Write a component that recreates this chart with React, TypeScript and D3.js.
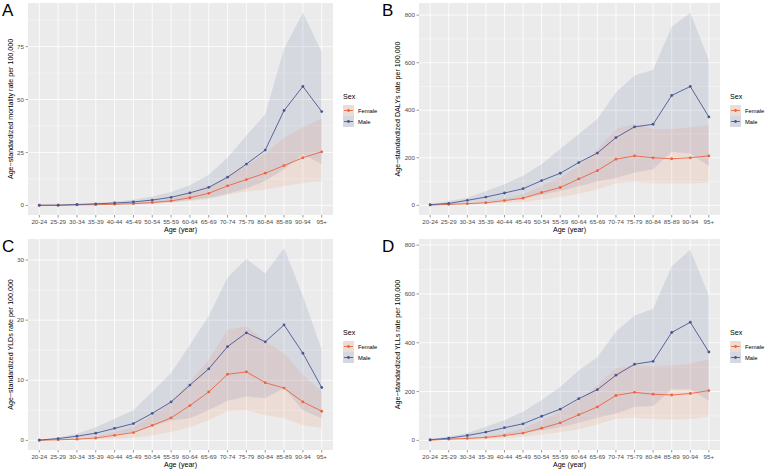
import React from "react";
import * as d3 from "d3";

// age groups on the x axis
const ages = ["20-24", "25-29", "30-34", "35-39", "40-44", "45-49", "50-54", "55-59", "60-64", "65-69", "70-74", "75-79", "80-84", "85-89", "90-94", "95+"];

// A: mortality
const mortFemale = [0, 0.05, 0.2, 0.3, 0.5, 0.8, 1.3, 2.1, 3.6, 5.7, 9.2, 12.2, 15.2, 18.8, 22.5, 25.3];
const mortFemaleLo = [0, 0.02, 0.1, 0.15, 0.3, 0.45, 0.7, 1.2, 2, 3, 5, 6.5, 7.5, 9, 10.5, 11.5];
const mortFemaleHi = [0.05, 0.1, 0.3, 0.5, 0.8, 1.2, 2, 3.2, 5.5, 8.5, 14, 19, 24.5, 32, 37, 41];
const mortMale = [0.05, 0.1, 0.4, 0.7, 1.1, 1.6, 2.5, 3.8, 5.9, 8.5, 13.3, 19.5, 26.1, 44.8, 56.2, 44.3];
const mortMaleLo = [0, 0.05, 0.15, 0.3, 0.5, 0.7, 1.1, 1.6, 2.5, 3.5, 5.5, 8, 11.5, 17, 24, 19.5];
const mortMaleHi = [0.1, 0.2, 0.6, 1.1, 1.8, 2.7, 4.2, 6.3, 9.5, 14.5, 22.5, 33, 43, 74, 91, 72.5];

// B: DALYs
const dalyFemale = [1, 4, 7, 11, 20, 30, 54, 75, 111, 146, 194, 208, 200, 196, 200, 208];
const dalyFemaleLo = [0.5, 2, 4, 6, 10, 14, 25, 35, 49, 68, 92, 99, 93, 92, 92, 96];
const dalyFemaleHi = [2, 6, 10, 17, 30, 46, 82, 117, 166, 236, 321, 342, 321, 321, 328, 336];
const dalyMale = [3, 8, 21, 35, 52, 70, 104, 135, 180, 220, 285, 330, 341, 462, 500, 372];
const dalyMaleLo = [1, 4, 10, 15, 22, 30, 45, 60, 80, 100, 115, 138, 152, 225, 218, 166];
const dalyMaleHi = [5, 18, 32, 60, 89, 124, 173, 237, 300, 363, 476, 546, 570, 751, 810, 610];

// C: YLDs
const yldFemale = [0.02, 0.1, 0.2, 0.4, 0.85, 1.3, 2.5, 3.75, 5.8, 8.05, 11, 11.4, 9.6, 8.7, 6.4, 4.85];
const yldFemaleLo = [0, 0.05, 0.1, 0.2, 0.3, 0.45, 0.85, 1.4, 2.2, 3.4, 4.9, 5, 4.2, 3.7, 2.5, 2.1];
const yldFemaleHi = [0.05, 0.2, 0.4, 0.7, 1.4, 2.2, 4.2, 6.4, 9.8, 13.4, 18.4, 19, 16.5, 14.5, 10.9, 8.1];
const yldMale = [0.05, 0.3, 0.7, 1.2, 2, 2.8, 4.5, 6.4, 9.2, 11.9, 15.6, 17.9, 16.4, 19.2, 14.5, 8.8];
const yldMaleLo = [0, 0.15, 0.35, 0.6, 1, 1.4, 2.3, 3.3, 3.7, 5, 6.6, 7.3, 7, 8.7, 5, 3.7];
const yldMaleHi = [0.1, 0.5, 1.1, 2.2, 3.6, 5, 8.1, 11.2, 15.9, 20.7, 27.1, 30.2, 27.8, 32, 24, 15.1];

// D: YLLs
const yllFemale = [1, 5, 8, 12, 20, 30, 50, 72, 105, 137, 184, 197, 189, 186, 192, 204];
const yllFemaleLo = [0.5, 2, 4, 6, 10, 16, 24, 33, 46, 65, 90, 93, 88, 87, 88, 97];
const yllFemaleHi = [2, 6, 9, 16, 29, 49, 83, 117, 165, 226, 297, 307, 305, 307, 314, 332];
const yllMale = [3, 9, 20, 34, 52, 68, 99, 128, 171, 208, 267, 312, 324, 442, 484, 362];
const yllMaleLo = [1, 4, 9, 14, 22, 30, 42, 55, 72, 93, 110, 137, 141, 210, 210, 162];
const yllMaleHi = [5, 16, 30, 56, 83, 117, 165, 219, 287, 341, 446, 512, 539, 713, 781, 593];

const yTicksA = [0, 25, 50, 75];
const yTicksB = [0, 200, 400, 600, 800];
const yTicksC = [0, 10, 20, 30];
const yTicksD = [0, 200, 400, 600, 800];

const FEMALE = "#EC6442";
const MALE = "#4A5792";
const FEMALE_FILL = "#F47A50";
const MALE_FILL = "#4F5C9E";
const FONT = "Liberation Sans, Arial, sans-serif";

type PanelProps = {
  letter: string;
  left: number;
  top: number;
  width: number;
  height: number;
  ymax: number;
  ticks: number[];
  ytitle: string;
  titleGap: number;
  f: number[]; fLo: number[]; fHi: number[];
  m: number[]; mLo: number[]; mHi: number[];
};

const Panel = (p: PanelProps) => {
  const x = d3.scalePoint<string>().domain(ages).range([p.left, p.left + p.width]).padding(0.6);
  const y = d3.scaleLinear().domain([-p.ymax * 0.0477, p.ymax]).range([p.top + p.height, p.top]);
  const idx = ages.map((_, i) => i);
  const area = (lo: number[], hi: number[]) =>
    d3.area<number>().x(i => x(ages[i])!).y0(i => y(lo[i])).y1(i => y(hi[i]))(idx)!;
  const line = (v: number[]) => d3.line<number>().x(i => x(ages[i])!).y(i => y(v[i]))(idx)!;
  const step = p.ticks[1] - p.ticks[0];
  const minor = p.ticks.map(t => t + step / 2).filter(t => t < p.ymax);
  const bottom = p.top + p.height;
  const series = [
    { v: p.f, c: FEMALE },
    { v: p.m, c: MALE },
  ];
  const letterX = p.left < 100 ? 2 : 382;
  return (
    <g>
      <text x={letterX} y={p.top + 13} fontSize={17} fontFamily={FONT}>{p.letter}</text>
      <rect x={p.left} y={p.top} width={p.width} height={p.height} fill="#EBEBEB" />
      {minor.map(t => (
        <line key={"m" + t} x1={p.left} x2={p.left + p.width} y1={y(t)} y2={y(t)} stroke="#fff" strokeWidth={0.4} />
      ))}
      {p.ticks.map(t => (
        <line key={"t" + t} x1={p.left} x2={p.left + p.width} y1={y(t)} y2={y(t)} stroke="#fff" strokeWidth={0.8} />
      ))}
      {ages.map(a => (
        <line key={a} x1={x(a)} x2={x(a)} y1={p.top} y2={bottom} stroke="#fff" strokeWidth={0.8} />
      ))}
      <path d={area(p.fLo, p.fHi)} fill={FEMALE_FILL} fillOpacity={0.13} />
      <path d={area(p.mLo, p.mHi)} fill={MALE_FILL} fillOpacity={0.13} />
      {series.map((s, k) => (
        <g key={k}>
          <path d={line(s.v)} fill="none" stroke={s.c} strokeWidth={0.9} />
          {s.v.map((v, i) => (
            <circle key={i} cx={x(ages[i])} cy={y(v)} r={1.4} fill={s.c} />
          ))}
        </g>
      ))}
      {p.ticks.map(t => (
        <g key={"yl" + t}>
          <line x1={p.left - 2.5} x2={p.left} y1={y(t)} y2={y(t)} stroke="#333" strokeWidth={0.5} />
          <text x={p.left - 4} y={y(t) + 2.1} fontSize={6.2} textAnchor="end" fill="#4D4D4D" fontFamily={FONT}>{t}</text>
        </g>
      ))}
      {ages.map(a => (
        <g key={"xl" + a}>
          <line x1={x(a)} x2={x(a)} y1={bottom} y2={bottom + 2.5} stroke="#333" strokeWidth={0.5} />
          <text x={x(a)} y={bottom + 8.5} fontSize={6.2} textAnchor="middle" fill="#4D4D4D" fontFamily={FONT}>{a}</text>
        </g>
      ))}
      <text x={p.left + p.width / 2} y={bottom + 17} fontSize={7.1} textAnchor="middle" fontFamily={FONT}>Age (year)</text>
      <text transform={`translate(${p.left - p.titleGap},${p.top + p.height / 2}) rotate(-90)`} fontSize={7.1} textAnchor="middle" fontFamily={FONT}>{p.ytitle}</text>
      <g transform={`translate(${p.left + p.width + 10},${p.top + 96})`}>
        <text x={0} y={0} fontSize={7.1} fontFamily={FONT}>Sex</text>
        {[{ l: "Female", c: FEMALE, fc: FEMALE_FILL }, { l: "Male", c: MALE, fc: MALE_FILL }].map((s, k) => (
          <g key={s.l} transform={`translate(0,${6 + k * 11})`}>
            <rect x={0} y={0} width={11} height={11} fill="#EBEBEB" />
            <rect x={0} y={0} width={11} height={11} fill={s.fc} fillOpacity={0.13} />
            <line x1={1} x2={10} y1={5.5} y2={5.5} stroke={s.c} strokeWidth={0.9} />
            <circle cx={5.5} cy={5.5} r={1.4} fill={s.c} />
            <text x={15} y={8} fontSize={5.8} fontFamily={FONT}>{s.l}</text>
          </g>
        ))}
      </g>
    </g>
  );
};

export default function App() {
  return (
    <svg width={767} height={470} style={{ position: "absolute", left: 0, top: 0, background: "#fff" }}>
      <Panel letter="A" left={28} top={3} width={305} height={212} ymax={95.6} ticks={yTicksA} titleGap={15}
        ytitle="Age−standardized mortality rate per 100,000"
        f={mortFemale} fLo={mortFemaleLo} fHi={mortFemaleHi} m={mortMale} mLo={mortMaleLo} mHi={mortMaleHi} />
      <Panel letter="B" left={419} top={3} width={301} height={212} ymax={851} ticks={yTicksB} titleGap={19}
        ytitle="Age−standardized DALYs rate per 100,000"
        f={dalyFemale} fLo={dalyFemaleLo} fHi={dalyFemaleHi} m={dalyMale} mLo={dalyMaleLo} mHi={dalyMaleHi} />
      <Panel letter="C" left={28} top={239} width={305} height={211} ymax={33.5} ticks={yTicksC} titleGap={15}
        ytitle="Age−standardized YLDs rate per 100,000"
        f={yldFemale} fLo={yldFemaleLo} fHi={yldFemaleHi} m={yldMale} mLo={yldMaleLo} mHi={yldMaleHi} />
      <Panel letter="D" left={419} top={239} width={301} height={211} ymax={825} ticks={yTicksD} titleGap={19}
        ytitle="Age−standardized YLLs rate per 100,000"
        f={yllFemale} fLo={yllFemaleLo} fHi={yllFemaleHi} m={yllMale} mLo={yllMaleLo} mHi={yllMaleHi} />
    </svg>
  );
}
